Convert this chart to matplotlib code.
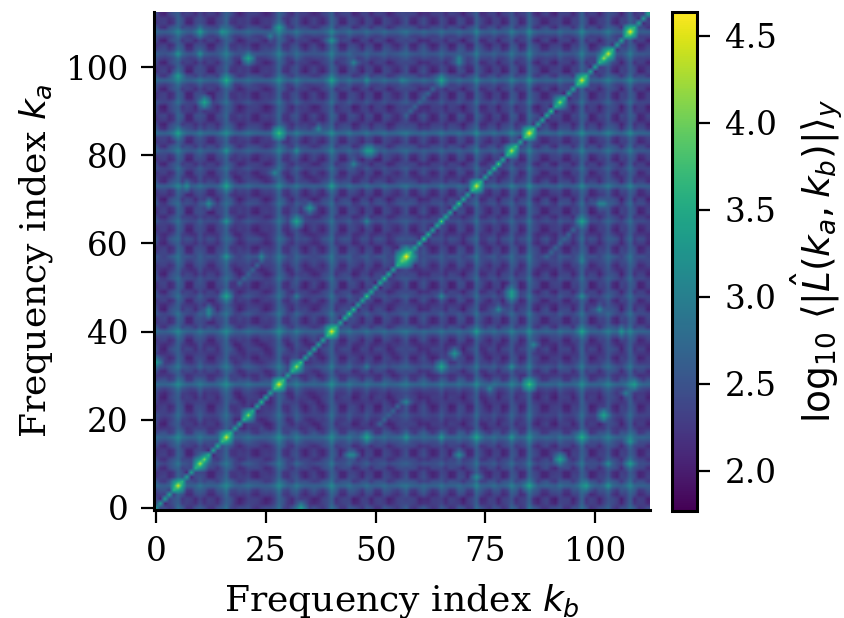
"""Heatmap of mean log-magnitude over pairs of frequency indices."""

import matplotlib
import matplotlib.pyplot as plt
import numpy as np

matplotlib.use("Agg")

N_FREQ = 113
BASE_LEVEL = 2.1
PATCH_GAIN = 0.7

# strength of the row/column bands, one per frequency index
BAND_LEVEL = [
    0.18, 0.06, 0.03, 0.08, 0.22, 0.50, 0.22, 0.06, 0.03, 0.12,
    0.28, 0.12, 0.05, 0.03, 0.10, 0.28, 0.52, 0.22, 0.06, 0.03,
    0.08, 0.20, 0.08, 0.03, 0.06, 0.03, 0.06, 0.22, 0.55, 0.22,
    0.05, 0.12, 0.32, 0.12, 0.03, 0.06, 0.08, 0.03, 0.06, 0.22,
    0.52, 0.18, 0.05, 0.08, 0.25, 0.08, 0.04, 0.06, 0.22, 0.08,
    0.03, 0.06, 0.20, 0.06, 0.04, 0.08, 0.20, 0.28, 0.10, 0.04,
    0.06, 0.18, 0.05, 0.03, 0.08, 0.25, 0.08, 0.04, 0.06, 0.20,
    0.06, 0.03, 0.12, 0.48, 0.12, 0.04, 0.06, 0.20, 0.06, 0.03,
    0.12, 0.40, 0.16, 0.04, 0.12, 0.55, 0.18, 0.05, 0.03, 0.08,
    0.06, 0.03, 0.22, 0.06, 0.04, 0.06, 0.18, 0.52, 0.18, 0.04,
    0.06, 0.05, 0.18, 0.38, 0.16, 0.04, 0.05, 0.18, 0.48, 0.16,
    0.04, 0.06, 0.05,
]

# light and dark patches between the bands
PATCH_A = [
    -0.2, 0.3, 0.3, -0.3, -0.3, 0.1, 0.2, -0.3, -0.4, 0.2,
    0.3, 0.1, -0.3, -0.3, 0.3, 0.2, 0.1, -0.3, -0.4, 0.2,
    0.4, 0.1, -0.2, -0.4, -0.3, 0.3, 0.4, 0.2, 0.0, -0.3,
    -0.4, 0.2, 0.3, 0.1, -0.4, -0.2, 0.3, 0.3, -0.3, -0.2,
    0.1, 0.3, -0.3, -0.4, 0.2, 0.4, 0.1, -0.3, 0.2, 0.3,
    -0.4, -0.3, 0.1, 0.3, 0.3, -0.2, -0.1, 0.2, -0.3, -0.4,
    0.2, 0.3, 0.3, -0.3, -0.2, 0.2, 0.1, -0.4, -0.3, 0.3,
    0.4, -0.2, -0.3, 0.0, 0.3, 0.3, -0.3, 0.1, 0.2, -0.4,
    -0.2, 0.1, 0.3, -0.3, -0.1, 0.1, 0.3, 0.2, -0.3, -0.4,
    0.2, 0.3, 0.1, -0.3, -0.4, 0.3, 0.2, 0.0, 0.2, -0.4,
    -0.2, 0.3, 0.2, 0.1, -0.3, -0.4, 0.3, 0.1, 0.0, 0.3,
    -0.3, -0.2, 0.3,
]
PATCH_B = [
    0.3, -0.2, -0.4, 0.2, 0.3, 0.0, -0.3, 0.3, 0.1, -0.4,
    0.1, -0.3, 0.3, 0.2, -0.2, 0.1, 0.0, 0.3, -0.3, -0.4,
    0.2, 0.1, 0.3, 0.2, -0.4, -0.3, 0.1, 0.1, 0.0, 0.3,
    -0.2, -0.4, 0.1, 0.3, 0.2, -0.3, -0.4, 0.2, 0.3, 0.1,
    0.0, -0.3, 0.2, 0.3, 0.1, -0.4, -0.2, 0.3, 0.1, -0.3,
    0.2, 0.4, -0.2, -0.4, 0.2, 0.3, 0.1, -0.1, 0.3, 0.2,
    -0.3, -0.4, 0.1, 0.3, 0.2, 0.0, -0.3, 0.3, 0.2, -0.2,
    -0.4, 0.2, 0.3, 0.0, -0.3, 0.2, 0.3, 0.1, -0.4, 0.2,
    0.3, 0.0, -0.3, 0.2, 0.3, 0.0, -0.3, -0.4, 0.2, 0.3,
    -0.2, -0.4, 0.1, 0.3, 0.2, -0.3, 0.1, 0.0, -0.3, 0.3,
    0.2, -0.3, 0.1, 0.0, 0.3, 0.2, -0.4, 0.1, 0.0, -0.3,
    0.3, 0.2, -0.3,
]

# values along the diagonal
DIAG_LEVEL = [
    3.30, 3.35, 3.40, 3.40, 3.60, 4.45, 3.60, 3.40, 3.40, 3.60,
    4.30, 4.05, 3.60, 3.40, 3.50, 3.70, 4.42, 3.60, 3.40, 3.40,
    3.60, 4.12, 3.55, 3.40, 3.70, 3.45, 3.40, 3.70, 4.50, 3.70,
    3.40, 3.60, 4.20, 3.80, 3.40, 3.40, 3.45, 3.40, 3.40, 3.60,
    4.50, 3.60, 3.40, 3.60, 3.90, 3.70, 3.40, 3.40, 3.90, 3.50,
    3.40, 3.55, 3.70, 3.55, 3.40, 3.60, 3.95, 4.60, 3.70, 3.40,
    3.55, 3.85, 3.60, 3.40, 3.50, 4.00, 3.50, 3.40, 3.45, 3.90,
    3.50, 3.40, 3.60, 4.42, 3.60, 3.40, 3.45, 3.65, 3.95, 3.50,
    3.60, 4.30, 3.70, 3.40, 3.70, 4.55, 3.70, 3.40, 3.45, 3.55,
    3.85, 3.50, 4.15, 3.50, 3.40, 3.45, 3.65, 4.45, 3.65, 3.40,
    3.45, 3.60, 4.20, 4.42, 3.60, 3.40, 3.40, 3.60, 4.55, 3.60,
    3.40, 3.35, 3.30,
]

# off-diagonal bright cells, mirrored across the diagonal when drawn
SPOT_KB = [28, 15, 10, 5, 26, 40, 21, 10, 5, 5, 16, 40, 48, 11, 5, 28, 37, 48,
           32, 16, 45, 27, 7, 16, 40, 12, 35, 16, 32, 48, 45, 65, 56, 69, 97,
           102, 16, 12, 48, 44, 32, 0, 81, 65, 85, 109, 76, 97, 102, 97, 106,
           73, 57, 65, 73, 97, 108, 92, 103, 108, 73, 85, 98, 57, 86, 68,
           56, 57, 56, 58, 57,
           51, 52, 53, 54, 55, 56, 57, 58, 59, 60, 61, 62, 63]
SPOT_KA = [109, 108, 108, 108, 107, 106, 102, 103, 103, 98, 97, 97, 97, 92, 85,
           85, 86, 81, 81, 81, 78, 76, 73, 73, 73, 69, 68, 65, 65, 65, 101, 97,
           97, 101, 65, 69, 48, 45, 16, 12, 48, 33, 49, 32, 28, 28, 27, 48, 21,
           40, 40, 40, 16, 16, 16, 16, 15, 11, 10, 10, 7, 5, 5, 24, 37, 35,
           56, 56, 57, 57, 58,
           19, 20, 21, 22, 23, 24, 89, 90, 91, 92, 93, 94, 95]
SPOT_LEVEL = [3.35, 3.25, 3.05, 3.05, 2.95, 3.25, 3.45, 3.15, 3.25, 3.35, 3.55,
              3.25, 3.15, 3.45, 3.4, 3.75, 3.05, 3.35, 3.15, 3.25, 3.05, 3.05,
              3.15, 3.45, 3.35, 3.15, 3.25, 3.25, 3.45, 3.05, 3.05, 3.15, 3.05,
              3.05, 3.45, 3.05, 3.45, 3.05, 3.35, 3.1, 2.95, 3.35, 3.35, 3.35,
              3.75, 3.35, 3.05, 3.15, 3.45, 3.45, 3.15, 3.35, 3.25, 3.25, 3.25,
              3.45, 3.25, 3.35, 3.15, 3.35, 3.15, 3.45, 3.25, 3.05, 3.05, 3.15,
              3.8, 3.7, 3.7, 3.6, 3.6,
              2.7, 2.7, 2.7, 2.7, 2.7, 2.7, 2.7, 2.7, 2.7, 2.7, 2.7, 2.7, 2.7]

X_TICKS = [0, 25, 50, 75, 100]
Y_TICKS = [0, 20, 40, 60, 80, 100]
CBAR_TICKS = [2.0, 2.5, 3.0, 3.5, 4.0, 4.5]
VMIN, VMAX = 1.77, 4.64

NEIGHBOURS = [(0, 0, 0.0), (1, 0, 0.5), (-1, 0, 0.5), (0, 1, 0.5), (0, -1, 0.5),
              (1, 1, 0.85), (1, -1, 0.85), (-1, 1, 0.85), (-1, -1, 0.85)]


def stamp(mat: np.ndarray, ka: int, kb: int, level: float) -> None:
    """Raise a cell and, more weakly, the cells around it."""
    for da, db, drop in NEIGHBOURS:
        a, b = ka + da, kb + db
        if 0 <= a < N_FREQ and 0 <= b < N_FREQ:
            mat[a, b] = max(mat[a, b], level - drop)
            mat[b, a] = max(mat[b, a], level - drop)


def build_matrix() -> np.ndarray:
    band = np.array(BAND_LEVEL)
    patch_a = np.array(PATCH_A)
    patch_b = np.array(PATCH_B)
    mat = BASE_LEVEL + band[:, None] + band[None, :]
    mat += PATCH_GAIN * (patch_a[:, None] * patch_b[None, :] + patch_b[:, None] * patch_a[None, :])
    for kb, ka, level in zip(SPOT_KB, SPOT_KA, SPOT_LEVEL):
        stamp(mat, ka, kb, level)
    for k, level in enumerate(DIAG_LEVEL):
        if level > 4.0:
            stamp(mat, k, k, level - 0.5)
    mat[np.arange(N_FREQ), np.arange(N_FREQ)] = DIAG_LEVEL
    return mat


plt.rcParams["font.family"] = "DejaVu Serif"

fig = plt.figure(figsize=(8.45, 6.18), dpi=100)
ax = fig.add_axes([154 / 845, 108 / 618, 496 / 845, 498 / 618])
cax = fig.add_axes([672.5 / 845, 107.5 / 618, 25 / 845, 499 / 618])

im = ax.imshow(build_matrix(), origin="lower", cmap="viridis", vmin=VMIN, vmax=VMAX,
               interpolation="bilinear", aspect="auto",
               extent=(-0.5, N_FREQ - 0.5, -0.5, N_FREQ - 0.5))

ax.spines["top"].set_visible(False)
ax.spines["right"].set_visible(False)
ax.spines["left"].set_linewidth(2.2)
ax.spines["bottom"].set_linewidth(2.2)
ax.set_xticks(X_TICKS)
ax.set_yticks(Y_TICKS)
ax.tick_params(labelsize=23.5, width=1.6, length=9.5, pad=9)
ax.set_xlabel(r"Frequency index $k_b$", fontsize=26, labelpad=10)
ax.set_ylabel(r"Frequency index $k_a$", fontsize=26, labelpad=8)

cbar = fig.colorbar(im, cax=cax, ticks=CBAR_TICKS)
cbar.outline.set_linewidth(2.2)
cbar.ax.tick_params(labelsize=23.5, width=1.6, length=9.5, pad=10)
cbar.set_label(r"$\log_{10}\,\langle|\hat{L}(k_a, k_b)|\rangle_y$", fontsize=27, labelpad=9)

fig.savefig("out.png", dpi=100)
plt.close(fig)
